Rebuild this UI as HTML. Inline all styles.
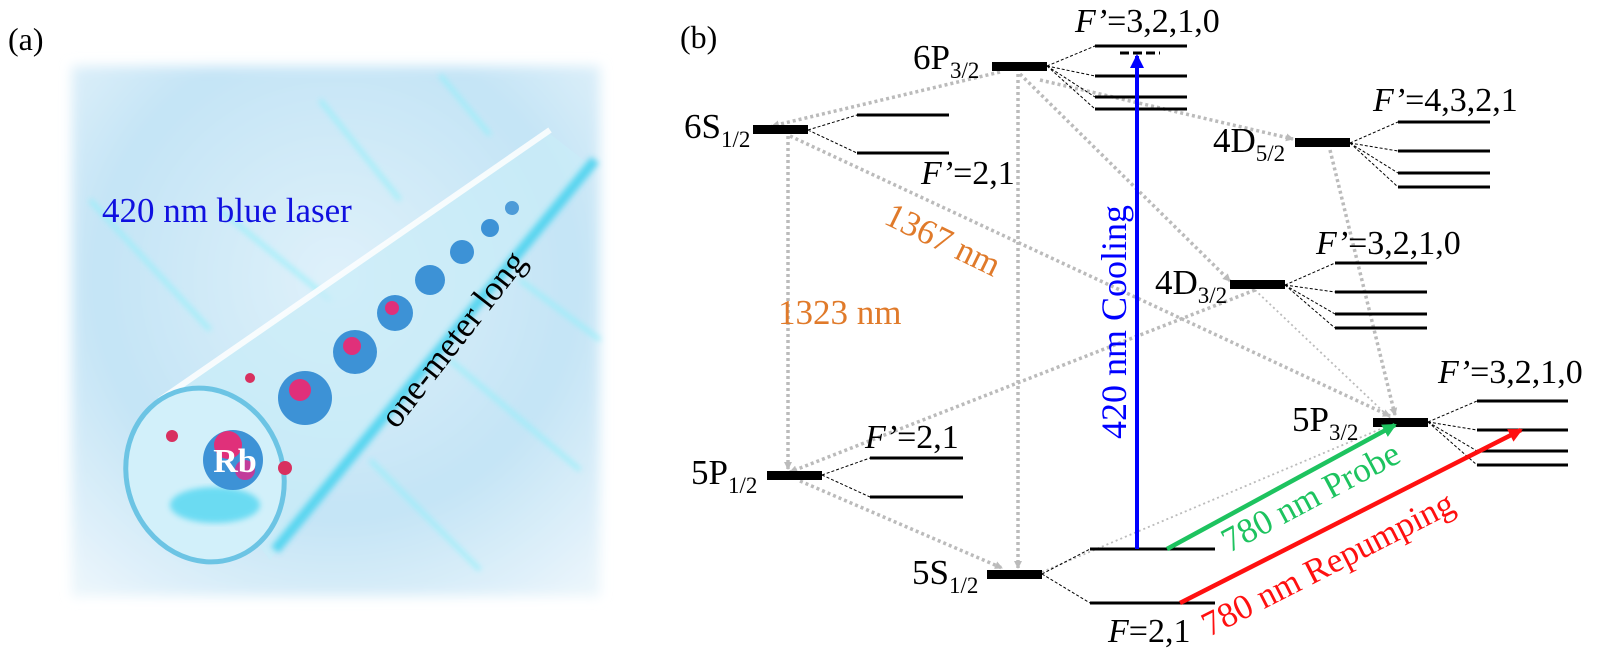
<!DOCTYPE html>
<html><head><meta charset="utf-8"><style>
html,body{margin:0;padding:0;background:#fff;}
svg{display:block;font-family:"Liberation Serif",serif;}
</style></head><body>
<svg width="1600" height="652" viewBox="0 0 1600 652" xmlns="http://www.w3.org/2000/svg">
<defs>
<radialGradient id="bg" cx="0.5" cy="0.4" r="0.75">
<stop offset="0" stop-color="#dff1fa"/><stop offset="0.6" stop-color="#c4e4f6"/><stop offset="1" stop-color="#eaf5fb"/>
</radialGradient>
<filter id="bl" x="-20%" y="-20%" width="140%" height="140%"><feGaussianBlur stdDeviation="6"/></filter>
<filter id="bl2"><feGaussianBlur stdDeviation="3"/></filter>
<marker id="ag" markerWidth="8" markerHeight="8" refX="7" refY="4" orient="auto" markerUnits="userSpaceOnUse"><path d="M0,0 L8,4 L0,8 z" fill="#bbb"/></marker>
<marker id="ab" markerWidth="14" markerHeight="14" refX="12" refY="7" orient="auto" markerUnits="userSpaceOnUse"><path d="M0,0 L14,7 L0,14 z" fill="#0000ff"/></marker>
<marker id="agr" markerWidth="14" markerHeight="14" refX="12" refY="7" orient="auto" markerUnits="userSpaceOnUse"><path d="M0,0 L14,7 L0,14 z" fill="#1dc35f"/></marker>
<marker id="ar" markerWidth="14" markerHeight="14" refX="12" refY="7" orient="auto" markerUnits="userSpaceOnUse"><path d="M0,0 L14,7 L0,14 z" fill="#ff1010"/></marker>
</defs>

<!-- panel (a) -->
<text x="8" y="50" font-size="32">(a)</text>
<rect x="72" y="66" width="528" height="530" fill="url(#bg)" filter="url(#bl)"/>
<g stroke="#8ff0fa" stroke-width="4" opacity="0.8" filter="url(#bl2)">
<line x1="320" y1="100" x2="400" y2="200"/><line x1="440" y1="75" x2="490" y2="135"/>
<line x1="90" y1="200" x2="210" y2="330"/><line x1="220" y1="210" x2="330" y2="300"/>
<line x1="450" y1="360" x2="580" y2="470"/><line x1="370" y1="460" x2="480" y2="570"/>
<line x1="520" y1="280" x2="600" y2="340"/>
</g>
<!-- tube -->
<polygon points="150,410 545,130 590,165 270,560" fill="#c9ecf8" opacity="0.7"/>
<line x1="160" y1="400" x2="550" y2="130" stroke="#ffffff" stroke-width="6" opacity="0.85"/>
<line x1="275" y1="550" x2="595" y2="160" stroke="#3cd0ee" stroke-width="10" opacity="0.8" filter="url(#bl2)"/>
<ellipse cx="205" cy="475" rx="78" ry="88" fill="#d2f0fa" stroke="#6cc4e4" stroke-width="5" transform="rotate(-20 205 475)"/>
<ellipse cx="215" cy="505" rx="45" ry="18" fill="#3fd3f0" opacity="0.7" filter="url(#bl2)"/>
<g>
<circle cx="233" cy="460" r="30" fill="#3d92d6"/><circle cx="228" cy="445" r="14" fill="#e0307a"/><circle cx="245" cy="470" r="10" fill="#c23c9a"/>
<circle cx="305" cy="398" r="27" fill="#3d92d6"/><circle cx="300" cy="390" r="11" fill="#e0307a"/>
<circle cx="355" cy="352" r="22" fill="#3d92d6"/><circle cx="352" cy="346" r="9" fill="#e0307a"/>
<circle cx="395" cy="313" r="18" fill="#3d92d6"/><circle cx="392" cy="308" r="7" fill="#e0307a"/>
<circle cx="430" cy="280" r="15" fill="#3d92d6"/><circle cx="462" cy="252" r="12" fill="#3d92d6"/>
<circle cx="490" cy="228" r="9" fill="#3d92d6"/><circle cx="512" cy="208" r="7" fill="#4d9bd8"/>
<circle cx="172" cy="436" r="6" fill="#d8305f"/><circle cx="285" cy="468" r="7" fill="#d8305f"/><circle cx="250" cy="378" r="5" fill="#d8305f"/>
</g>
<text x="102" y="222" font-size="35" fill="#1010e0">420 nm blue laser</text>
<text x="0" y="0" font-size="35" fill="#000" transform="translate(462,346) rotate(-52)" text-anchor="middle">one-meter long</text>
<text x="235" y="472" font-size="34" font-weight="bold" fill="#fff" text-anchor="middle">Rb</text>

<!-- panel (b) -->
<text x="680" y="48" font-size="32">(b)</text>

<!-- dotted gray transitions -->
<g stroke="#bbb" stroke-width="3.5" stroke-dasharray="3,3" fill="none" marker-end="url(#ag)">
<line x1="1000" y1="72" x2="772" y2="126"/>
<line x1="788" y1="136" x2="788" y2="469"/>
<line x1="790" y1="136" x2="1390" y2="416"/>
<line x1="1040" y1="80" x2="1293" y2="139"/>
<line x1="1020" y1="74" x2="1230" y2="281"/>
<line x1="1018" y1="74" x2="1018" y2="568"/>
<line x1="1330" y1="150" x2="1395" y2="415"/>
<line x1="1255" y1="290" x2="790" y2="472"/>
<line x1="800" y1="481" x2="1002" y2="568"/>
</g>
<g stroke="#bbb" stroke-width="1.8" stroke-dasharray="2,3" fill="none">
<line x1="1255" y1="290" x2="1390" y2="418"/>
<line x1="1042" y1="572" x2="1390" y2="425"/>
</g>

<!-- thick levels -->
<g fill="#000">
<rect x="992" y="62" width="55" height="9"/>
<rect x="753" y="125" width="55" height="9"/>
<rect x="1295" y="138" width="55" height="9"/>
<rect x="1230" y="280" width="55" height="9"/>
<rect x="1373" y="418" width="55" height="9"/>
<rect x="767" y="471" width="55" height="9"/>
<rect x="987" y="570" width="55" height="9"/>
</g>

<!-- sublevels -->
<g stroke="#000" stroke-width="3">
<line x1="1095" y1="46" x2="1187" y2="46"/><line x1="1095" y1="76" x2="1187" y2="76"/><line x1="1095" y1="97" x2="1187" y2="97"/><line x1="1095" y1="109" x2="1187" y2="109"/>
<line x1="857" y1="115" x2="949" y2="115"/><line x1="857" y1="153" x2="949" y2="153"/>
<line x1="1398" y1="122" x2="1490" y2="122"/><line x1="1398" y1="151" x2="1490" y2="151"/><line x1="1398" y1="173" x2="1490" y2="173"/><line x1="1398" y1="187" x2="1490" y2="187"/>
<line x1="1335" y1="263" x2="1427" y2="263"/><line x1="1335" y1="292" x2="1427" y2="292"/><line x1="1335" y1="314" x2="1427" y2="314"/><line x1="1335" y1="328" x2="1427" y2="328"/>
<line x1="1477" y1="401" x2="1568" y2="401"/><line x1="1477" y1="430" x2="1568" y2="430"/><line x1="1477" y1="451" x2="1568" y2="451"/><line x1="1477" y1="465" x2="1568" y2="465"/>
<line x1="870" y1="458" x2="963" y2="458"/><line x1="870" y1="497" x2="963" y2="497"/>
<line x1="1090" y1="549" x2="1215" y2="549"/><line x1="1090" y1="603" x2="1215" y2="603"/>
</g>
<line x1="1120" y1="53" x2="1160" y2="53" stroke="#000" stroke-width="3" stroke-dasharray="9,4"/>

<!-- dashed fan lines -->
<g stroke="#000" stroke-width="1" stroke-dasharray="3,2">
<path d="M1047,66 L1095,46 M1047,66 L1095,76 M1047,66 L1095,97 M1047,66 L1095,109"/>
<path d="M808,130 L857,115 M808,130 L857,153"/>
<path d="M1350,143 L1398,122 M1350,143 L1398,151 M1350,143 L1398,173 M1350,143 L1398,187"/>
<path d="M1285,285 L1335,263 M1285,285 L1335,292 M1285,285 L1335,314 M1285,285 L1335,328"/>
<path d="M1428,422 L1477,401 M1428,422 L1477,430 M1428,422 L1477,451 M1428,422 L1477,465"/>
<path d="M822,475 L870,458 M822,475 L870,497"/>
<path d="M1042,574 L1090,549 M1042,574 L1090,603"/>
</g>

<!-- laser arrows -->
<line x1="1137" y1="549" x2="1137" y2="56" stroke="#0000ff" stroke-width="4" marker-end="url(#ab)"/>
<line x1="1167" y1="549" x2="1395" y2="425" stroke="#1dc35f" stroke-width="4.5" marker-end="url(#agr)"/>
<line x1="1180" y1="603" x2="1521" y2="430" stroke="#ff1010" stroke-width="4.5" marker-end="url(#ar)"/>

<!-- labels -->
<g font-size="35">
<text x="913" y="69">6P<tspan font-size="23" dy="9">3/2</tspan></text>
<text x="684" y="138">6S<tspan font-size="23" dy="9">1/2</tspan></text>
<text x="1213" y="152">4D<tspan font-size="23" dy="9">5/2</tspan></text>
<text x="1155" y="294">4D<tspan font-size="23" dy="9">3/2</tspan></text>
<text x="1292" y="431">5P<tspan font-size="23" dy="9">3/2</tspan></text>
<text x="691" y="484">5P<tspan font-size="23" dy="9">1/2</tspan></text>
<text x="912" y="584">5S<tspan font-size="23" dy="9">1/2</tspan></text>
</g>
<g font-size="34">
<text x="1075" y="32"><tspan font-style="italic">F’</tspan>=3,2,1,0</text>
<text x="921" y="184"><tspan font-style="italic">F’</tspan>=2,1</text>
<text x="1373" y="111"><tspan font-style="italic">F’</tspan>=4,3,2,1</text>
<text x="1316" y="254"><tspan font-style="italic">F’</tspan>=3,2,1,0</text>
<text x="1438" y="383"><tspan font-style="italic">F’</tspan>=3,2,1,0</text>
<text x="865" y="448"><tspan font-style="italic">F’</tspan>=2,1</text>
<text x="1108" y="642"><tspan font-style="italic">F</tspan>=2,1</text>
</g>
<text x="0" y="0" font-size="35" fill="#e07a2a" transform="translate(938,250) rotate(26)" text-anchor="middle">1367 nm</text>
<text x="778" y="324" font-size="35" fill="#e07a2a">1323 nm</text>
<text x="0" y="0" font-size="36" fill="#0000ff" transform="translate(1126,322) rotate(-90)" text-anchor="middle">420 nm Cooling</text>
<text x="0" y="0" font-size="35" fill="#1dc35f" transform="translate(1316,507) rotate(-28)" text-anchor="middle">780 nm Probe</text>
<text x="0" y="0" font-size="35" fill="#ff1010" transform="translate(1333,574) rotate(-27)" text-anchor="middle">780 nm Repumping</text>
</svg>
</body></html>
